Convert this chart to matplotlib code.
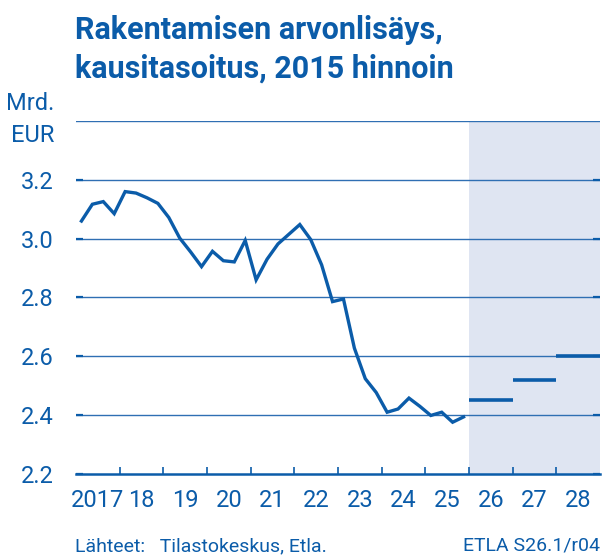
import numpy as np
import matplotlib
matplotlib.use("Agg")
import matplotlib.pyplot as plt

plt.rcParams["font.family"] = ["Roboto", "DejaVu Sans"]

BLUE = "#0b5ca9"
GRID = "#2f6fb3"
SHADE = "#dfe5f2"

# quarterly history 2017Q1..2025Q4, bn EUR (2015 prices)
start_year = 2017
values = [3.060, 3.117, 3.126, 3.085,
          3.160, 3.155, 3.139, 3.120,
          3.072, 3.002, 2.955, 2.905,
          2.957, 2.925, 2.921, 2.994,
          2.860, 2.930, 2.982, 3.015,
          3.048, 2.997, 2.911, 2.786,
          2.795, 2.628, 2.524, 2.477,
          2.410, 2.421, 2.458, 2.430,
          2.399, 2.410, 2.376, 2.394]
# annual forecasts
fc_years = [2026, 2027, 2028]
fc_values = [2.45, 2.52, 2.60]

year_labels = ["2017", "18", "19", "20", "21", "22", "23", "24", "25", "26", "27", "28"]
yticks = [2.2, 2.4, 2.6, 2.8, 3.0, 3.2]

x = start_year + (np.arange(len(values)) + 0.5) / 4

fig = plt.figure(figsize=(6.09, 5.56), dpi=100)
ax = fig.add_axes([76 / 609, 1 - 474 / 556, 524 / 609, 353 / 556])

ax.axvspan(2026, 2029, color=SHADE, lw=0, zorder=0)
for v in [2.4, 2.6, 2.8, 3.0, 3.2, 3.4]:
    ax.axhline(v, color=GRID, lw=1.0, zorder=1)

ax.plot(x, values, color=BLUE, lw=2.4, solid_joinstyle="miter", zorder=3)
for yr, v in zip(fc_years, fc_values):
    ax.hlines(v, yr, yr + 1, color=BLUE, lw=2.6, zorder=3)

ax.set_xlim(2017, 2029)
ax.set_ylim(2.2, 3.4)

for s in ["top", "left", "right"]:
    ax.spines[s].set_visible(False)
ax.spines["bottom"].set_color(BLUE)
ax.spines["bottom"].set_linewidth(1.8)

ax.set_xticks(np.arange(2018, 2029))
ax.set_xticklabels([])
ax.tick_params(axis="x", which="major", direction="in", length=5, width=1.2, color=BLUE)
ax.set_xticks(np.arange(2017, 2029) + 0.5, minor=True)
ax.set_xticklabels(year_labels, minor=True)
ax.tick_params(axis="x", which="minor", length=0, pad=11, labelsize=17, labelcolor=BLUE)

ax.set_yticks(yticks)
ax.set_yticklabels([f"{v:.1f}" for v in yticks])
ax.tick_params(axis="y", direction="in", length=5, width=1.6, color=BLUE,
               labelsize=17, labelcolor=BLUE, pad=16, right=True)

fig.text(54 / 609, 1 - 103 / 556, "Mrd.", ha="right", va="center", fontsize=17, color=BLUE)
fig.text(54 / 609, 1 - 135 / 556, "EUR", ha="right", va="center", fontsize=17, color=BLUE)

fig.text(75 / 609, 1 - 30 / 556, "Rakentamisen arvonlisäys,", ha="left", va="center",
         fontsize=22, fontweight="bold", color=BLUE)
fig.text(75 / 609, 1 - 69 / 556, "kausitasoitus, 2015 hinnoin", ha="left", va="center",
         fontsize=22, fontweight="bold", color=BLUE)

fig.text(75 / 609, 1 - 546 / 556, "Lähteet:   Tilastokeskus, Etla.", ha="left", va="center",
         fontsize=14, color=BLUE)
fig.text(600 / 609, 1 - 546 / 556, "ETLA S26.1/r04", ha="right", va="center",
         fontsize=14, color=BLUE)

fig.savefig("out.png", dpi=100)
